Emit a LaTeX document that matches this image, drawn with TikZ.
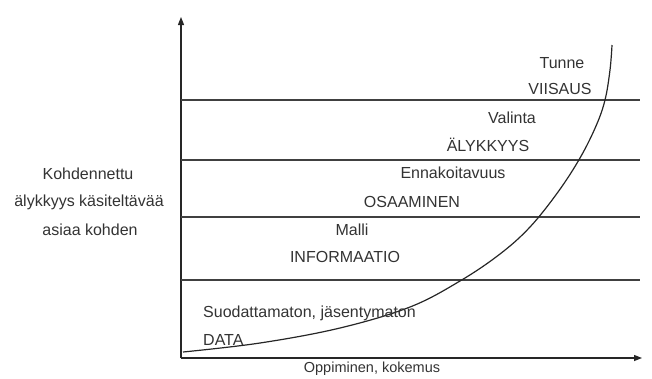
\documentclass[tikz,border=0pt]{standalone}
\usepackage{fontspec}
\setmainfont{Liberation Sans}
\usetikzlibrary{arrows.meta}
\begin{document}
\begin{tikzpicture}[x=1pt,y=-1pt,
  axis/.style={line width=1.3pt,draw=black!85,-{Triangle[length=8pt,width=6pt]}},
  level/.style={line width=1.4pt,draw=black!75},
  curve/.style={line width=1.2pt,draw=black!85},
  lab/.style={inner sep=0pt,font=\fontsize{16}{19}\selectfont,text=black!80},
  small/.style={inner sep=0pt,font=\fontsize{14.5}{17}\selectfont,text=black!80}]
\useasboundingbox (0,0) rectangle (652,378);

% axes
\coordinate (o) at (181,358);
\coordinate (ytop) at (181,17);
\coordinate (xend) at (642,358);
\draw[axis] (o) -- (ytop);
\draw[axis] (o) -- (xend);

% level boundaries
\foreach \n/\y in {a/100,b/160,c/217,d/280}{
  \coordinate (\n l) at (181,\y);
  \coordinate (\n r) at (640,\y);
  \draw[level] (\n l) -- (\n r);
}

% learning curve
\draw[curve] plot[smooth,tension=0.6] coordinates {
  (183,352) (260,343) (340,328) (410,307) (460,281) (500,254)
  (530,227) (558,192) (580,158) (596,126) (605,100) (610,70) (612,45)};

% level labels
\node[lab] (tunne) at (562,63) {Tunne};
\node[lab] (viisaus) at (560,89) {VIISAUS};
\node[lab] (valinta) at (512,118) {Valinta};
\node[lab] (alyk) at (488,145) {ÄLYKKYYS};
\node[lab] (ennak) at (453,173) {Ennakoitavuus};
\node[lab] (osaam) at (412,202) {OSAAMINEN};
\node[lab] (malli) at (352,230) {Malli};
\node[lab] (info) at (345,257) {INFORMAATIO};
\node[lab,anchor=west] (suod) at (203,313) {Suodattamaton, jäsentymaton};
\node[lab,anchor=west] (data) at (203,340) {DATA};

% axis labels
\node[small] (xlab) at (372,369) {Oppiminen, kokemus};
\node[lab,align=center] (ylab1) at (88,174) {Kohdennettu};
\node[lab,align=center] (ylab2) at (89,202) {älykkyys käsiteltävää};
\node[lab,align=center] (ylab3) at (90,230) {asiaa kohden};
\end{tikzpicture}
\end{document}
